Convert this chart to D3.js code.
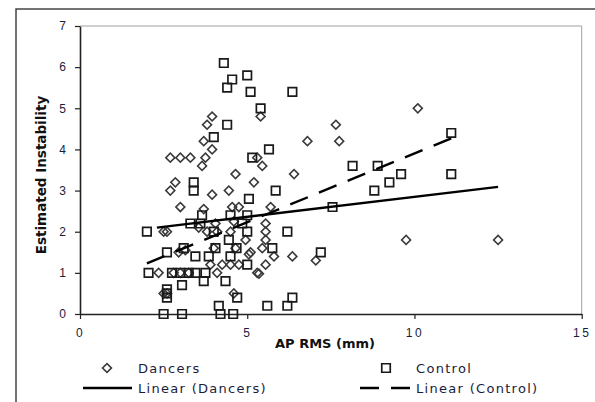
<!DOCTYPE html>
<html>
<head>
<meta charset="utf-8">
<script src="https://cdn.jsdelivr.net/npm/d3@7"></script>
<style>
  body { margin: 0; background: #fff; }
  svg { display: block; font-family: "DejaVu Sans", Verdana, sans-serif; }
</style>
</head>
<body>
<svg id="chart" width="595" height="402"></svg>
<script>
// Dancers: [AP RMS, Estimated Instability]
const dancers = [
    [3.95, 4.8], [3.8, 4.6], [3.7, 4.2], [3.95, 4.0], [5.4, 4.8],
    [2.7, 3.8], [3.0, 3.8], [3.3, 3.8], [3.75, 3.8], [3.65, 3.6],
    [5.3, 3.8], [5.45, 3.6], [4.65, 3.4], [6.4, 3.4], [2.85, 3.2],
    [2.7, 3.0], [3.95, 2.9], [4.45, 3.0], [5.2, 3.2],
    [10.1, 5.0], [7.65, 4.6], [7.75, 4.2], [6.8, 4.2], [6.35, 1.4],
    [7.05, 1.3], [9.75, 1.8], [12.5, 1.8],
    [3.0, 2.6], [3.7, 2.55], [2.5, 2.0], [2.6, 2.0], [2.35, 1.0],
    [2.5, 0.5], [2.6, 0.5], [2.95, 1.5], [3.15, 1.55], [2.8, 1.0],
    [3.0, 1.0], [3.25, 1.0], [3.55, 2.1], [3.8, 2.0], [4.05, 2.2],
    [4.0, 1.6], [3.9, 1.2], [4.1, 1.0], [4.25, 1.2], [4.55, 2.6],
    [4.75, 2.6], [4.6, 2.25], [4.5, 2.0], [4.1, 2.0], [4.65, 1.6],
    [4.75, 1.2], [4.5, 1.2], [4.6, 0.5], [4.95, 1.8], [5.05, 1.45],
    [5.1, 1.5], [5.3, 1.0], [5.35, 0.98], [5.55, 2.2], [5.55, 2.0],
    [5.55, 1.8], [5.45, 1.6], [5.55, 1.2], [5.8, 1.4], [5.7, 2.6]
];

// Control: [AP RMS, Estimated Instability]
const control = [
    [4.3, 6.1], [4.55, 5.7], [4.4, 5.5], [5.0, 5.8], [5.1, 5.4],
    [6.35, 5.4], [5.4, 5.0], [4.4, 4.6], [4.0, 4.3], [5.65, 4.0],
    [5.15, 3.8], [3.4, 3.2], [3.4, 3.0], [5.85, 3.0], [5.05, 2.8],
    [11.1, 4.4], [8.15, 3.6], [8.9, 3.6], [9.6, 3.4], [11.1, 3.4],
    [9.25, 3.2], [8.8, 3.0], [7.55, 2.6], [6.2, 2.0], [7.2, 1.5],
    [6.35, 0.4], [6.2, 0.2],
    [2.0, 2.0], [2.05, 1.0], [2.6, 1.5], [2.6, 0.6], [2.6, 0.5],
    [2.6, 0.4], [2.5, 0.0], [3.05, 0.7], [3.05, 0.0], [2.75, 1.0],
    [3.1, 1.6], [3.3, 2.2], [3.6, 2.2], [3.45, 1.4], [3.45, 1.0],
    [3.7, 0.8], [3.65, 2.4], [3.85, 1.4], [3.75, 1.0], [4.0, 2.0],
    [4.05, 1.6], [4.15, 0.2], [4.2, 0.0], [4.35, 0.8], [4.45, 1.8],
    [4.5, 2.4], [4.5, 1.4], [4.58, 0.0], [4.7, 0.4], [4.68, 1.6],
    [5.0, 2.0], [5.0, 2.4], [4.85, 2.2], [5.0, 1.2], [5.75, 1.6],
    [5.6, 0.2], [3.0, 1.0], [3.25, 1.0]
];

// trend lines [x0, y0, x1, y1]
const trendDancers = [2.3, 2.1, 12.5, 3.09];
const trendControl = [2.0, 1.23, 11.1, 4.27];

const xTicks = [0, 5, 10, 15];
const yTicks = [0, 1, 2, 3, 4, 5, 6, 7];

const svg = d3.select("#chart");
const pLeft = 80, pRight = 581.7, pTop = 26, pBottom = 314;

const x = d3.scaleLinear().domain([0, 15]).range([pLeft, pRight]);
const y = d3.scaleLinear().domain([0, 7]).range([pBottom, pTop]);

// outer frame
svg.append("rect")
    .attr("x", 16).attr("y", 9)
    .attr("width", 620).attr("height", 440)
    .attr("fill", "none")
    .attr("stroke", "#444")
    .attr("stroke-width", 1.5);

// plot area border (top / right)
svg.append("path")
    .attr("d", `M${pLeft},${pTop}H${pRight}V${pBottom}`)
    .attr("fill", "none")
    .attr("stroke", "#a0a0a0")
    .attr("stroke-width", 1);

// axes
let yAxis = svg.append("g")
    .attr("transform", `translate(${pLeft},0)`)
    .call(d3.axisLeft(y).tickValues(yTicks).tickFormat(d3.format("d"))
        .tickSize(5).tickPadding(9).tickSizeOuter(0));
let xAxis = svg.append("g")
    .attr("transform", `translate(0,${pBottom})`)
    .call(d3.axisBottom(x).tickValues(xTicks).tickFormat(d3.format("d"))
        .tickSize(5).tickPadding(9).tickSizeOuter(0));

[xAxis, yAxis].forEach(function (g) {
    g.select(".domain").attr("stroke", "#222").attr("stroke-width", 1.6);
    g.selectAll(".tick line").attr("stroke", "#222").attr("stroke-width", 1.2);
    g.selectAll(".tick text")
        .attr("fill", "#1c1c3a")
        .style("font-size", "12px");
});
xAxis.selectAll(".tick text").style("letter-spacing", "2.5px");

// markers
const sq = d3.symbol().type(d3.symbolSquare).size(72);
const dm = d3.symbol().type(d3.symbolSquare).size(40);

svg.append("g")
    .selectAll("path")
    .data(dancers)
    .enter()
    .append("path")
    .attr("d", dm)
    .attr("transform", d => `translate(${x(d[0])},${y(d[1])}) rotate(45)`)
    .attr("fill", "none")
    .attr("stroke", "#3a3a3a")
    .attr("stroke-width", 1.6);

svg.append("g")
    .selectAll("path")
    .data(control)
    .enter()
    .append("path")
    .attr("d", sq)
    .attr("transform", d => `translate(${x(d[0])},${y(d[1])})`)
    .attr("fill", "none")
    .attr("stroke", "#1a1a1a")
    .attr("stroke-width", 1.7);

// trend lines
svg.append("line")
    .attr("x1", x(trendDancers[0])).attr("y1", y(trendDancers[1]))
    .attr("x2", x(trendDancers[2])).attr("y2", y(trendDancers[3]))
    .attr("stroke", "#000").attr("stroke-width", 2.4);

svg.append("line")
    .attr("x1", x(trendControl[0])).attr("y1", y(trendControl[1]))
    .attr("x2", x(trendControl[2])).attr("y2", y(trendControl[3]))
    .attr("stroke", "#000").attr("stroke-width", 2.4)
    .attr("stroke-dasharray", "19,12");

// axis titles
svg.append("text")
    .attr("x", 325).attr("y", 348)
    .attr("text-anchor", "middle")
    .style("font-size", "13px").style("font-weight", "bold")
    .attr("fill", "#111")
    .text("AP RMS (mm)");

svg.append("text")
    .attr("transform", "translate(46,175) rotate(-90)")
    .attr("text-anchor", "middle")
    .style("font-size", "13.5px").style("font-weight", "bold")
    .attr("fill", "#111")
    .text("Estimated Instability");

// legend
let legend = svg.append("g").style("font-size", "13px").style("letter-spacing", "1.3px").attr("fill", "#1c1c3a");

legend.append("path").attr("d", dm)
    .attr("transform", "translate(107,368) rotate(45)")
    .attr("fill", "none").attr("stroke", "#3a3a3a").attr("stroke-width", 1.6);
legend.append("text").attr("x", 138).attr("y", 373).text("Dancers");

legend.append("path").attr("d", sq)
    .attr("transform", "translate(386,368)")
    .attr("fill", "none").attr("stroke", "#1a1a1a").attr("stroke-width", 1.7);
legend.append("text").attr("x", 416).attr("y", 373).text("Control");

legend.append("line")
    .attr("x1", 83).attr("x2", 132).attr("y1", 388).attr("y2", 388)
    .attr("stroke", "#000").attr("stroke-width", 2.4);
legend.append("text").attr("x", 138).attr("y", 393).text("Linear (Dancers)");

legend.append("line")
    .attr("x1", 360).attr("x2", 410).attr("y1", 388).attr("y2", 388)
    .attr("stroke", "#000").attr("stroke-width", 2.4)
    .attr("stroke-dasharray", "19,12");
legend.append("text").attr("x", 416).attr("y", 393).text("Linear (Control)");
</script>
</body>
</html>
